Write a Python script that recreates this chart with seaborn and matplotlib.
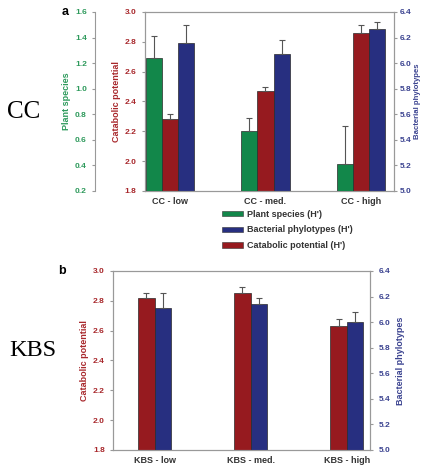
import seaborn as sns
import matplotlib.pyplot as plt
import pandas as pd
from matplotlib.patches import Patch

# data (Shannon H')
sites_cc = ['CC - low', 'CC - med.', 'CC - high']
plant_cc = [1.24, 0.67, 0.41]
plant_cc_err = [0.17, 0.10, 0.30]
cat_cc = [2.28, 2.47, 2.86]
cat_cc_err = [0.035, 0.027, 0.05]
bact_cc = [6.16, 6.07, 6.27]
bact_cc_err = [0.14, 0.11, 0.05]

sites_kbs = ['KBS - low', 'KBS - med.', 'KBS - high']
cat_kbs = [2.82, 2.85, 2.63]
cat_kbs_err = [0.034, 0.045, 0.045]
bact_kbs = [6.11, 6.14, 6.00]
bact_kbs_err = [0.12, 0.045, 0.08]

PLANT = "Plant species (H')"
BACT = "Bacterial phylotypes (H')"
CAT = "Catabolic potential (H')"
colors = {PLANT: '#12874a', CAT: '#961a1f', BACT: '#272f80'}
txt = {PLANT: '#2e9a5c', CAT: '#a8282c', BACT: '#3b4390'}
spine_c = '#999999'

plt.rcParams['font.family'] = ['Liberation Sans', 'DejaVu Sans']
plt.rcParams['font.weight'] = 'bold'


def bars(ax, sites, vals, errs, name, order, width):
    df = pd.DataFrame({'site': sites, 'value': vals, 'series': name})
    sns.barplot(data=df, x='site', y='value', hue='series', hue_order=order,
                order=sites, palette=colors, width=width, dodge=True, ax=ax,
                legend=False, saturation=1, edgecolor='#2a2a2a', linewidth=0.5)
    ps = sorted([p for p in ax.patches if p.get_height() != 0], key=lambda p: p.get_x())
    xs = [p.get_x() + p.get_width() / 2 for p in ps]
    ax.errorbar(xs, vals, yerr=[[0] * len(errs), errs], fmt='none', ecolor='#555555',
                elinewidth=0.8, capsize=2.5, capthick=0.8)


def style(ax, series, lo, hi, label, pad, lsize=6.5, tpad=3.5):
    ax.set_ylim(lo, hi)
    ax.set_yticks([round(lo + 0.2 * i, 1) for i in range(int(round((hi - lo) / 0.2)) + 1)])
    ax.yaxis.set_major_formatter(plt.FormatStrFormatter('%.1f'))
    ax.tick_params(axis='y', colors=spine_c, labelcolor=txt[series], labelsize=6,
                   length=2.5, width=0.8, pad=tpad)
    ax.set_ylabel(label, color=txt[series], fontsize=lsize, fontweight='bold', labelpad=pad)
    for s in ax.spines.values():
        s.set_color(spine_c)
        s.set_linewidth(0.8)


fig = plt.figure(figsize=(4.22, 4.68), dpi=100)

# panel a
ax_c = fig.add_axes([0.3436, 0.5919, 0.59, 0.3825])
ax_b = ax_c.twinx()
ax_p = ax_c.twinx()
order_a = [PLANT, CAT, BACT]
bars(ax_c, sites_cc, cat_cc, cat_cc_err, CAT, order_a, 0.51)
bars(ax_b, sites_cc, bact_cc, bact_cc_err, BACT, order_a, 0.51)
bars(ax_p, sites_cc, plant_cc, plant_cc_err, PLANT, order_a, 0.51)
style(ax_c, CAT, 1.8, 3.0, 'Catabolic potential', 3)
style(ax_b, BACT, 5.0, 6.4, 'Bacterial phylotypes', 1.5, lsize=5.6, tpad=2)
style(ax_p, PLANT, 0.2, 1.6, 'Plant species', 3)
ax_p.spines['left'].set_position(('axes', -0.2))
ax_p.spines['left'].set_visible(True)
for s in ['right', 'top', 'bottom']:
    ax_p.spines[s].set_visible(False)
ax_p.yaxis.set_ticks_position('left')
ax_p.yaxis.set_label_position('left')
ax_c.set_xlim(-0.262, 2.346)
ax_c.set_xlabel('')
ax_c.tick_params(axis='x', length=0, labelsize=6.5, labelcolor='#333333', pad=4)
for a in (ax_b, ax_p):
    a.set_xlabel('')

fig.text(0.147, 0.975, 'a', fontsize=9, fontweight='bold', ha='left', va='center')
fig.text(0.057, 0.76, 'CC', fontsize=18, family='Liberation Serif', fontweight='normal',
         ha='center', va='center')

handles = [Patch(facecolor=colors[k], edgecolor='#333333', linewidth=0.4) for k in (PLANT, BACT, CAT)]
fig.legend(handles, [PLANT, BACT, CAT], loc='upper left', bbox_to_anchor=(0.527, 0.552),
           frameon=False, fontsize=6.5, handlelength=2.3, handleheight=0.55,
           labelspacing=0.75, handletextpad=0.4, borderpad=0, borderaxespad=0,
           labelcolor='#333333')

# panel b
bx_c = fig.add_axes([0.2678, 0.0385, 0.609, 0.3825])
bx_b = bx_c.twinx()
order_b = [CAT, BACT]
bars(bx_c, sites_kbs, cat_kbs, cat_kbs_err, CAT, order_b, 0.34)
bars(bx_b, sites_kbs, bact_kbs, bact_kbs_err, BACT, order_b, 0.34)
style(bx_c, CAT, 1.8, 3.0, 'Catabolic potential', 3)
style(bx_b, BACT, 5.0, 6.4, 'Bacterial phylotypes', 4)
bx_c.set_xlim(-0.432, 2.242)
bx_c.set_xlabel('')
bx_b.set_xlabel('')
bx_c.tick_params(axis='x', length=0, labelsize=6.5, labelcolor='#333333', pad=4)

fig.text(0.137, 0.42, 'b', fontsize=9, fontweight='bold', ha='left', va='center')
fig.text(0.078, 0.252, 'KBS', fontsize=17.5, family='Liberation Serif', fontweight='normal',
         ha='center', va='center')

fig.savefig('out.png', dpi=100)
